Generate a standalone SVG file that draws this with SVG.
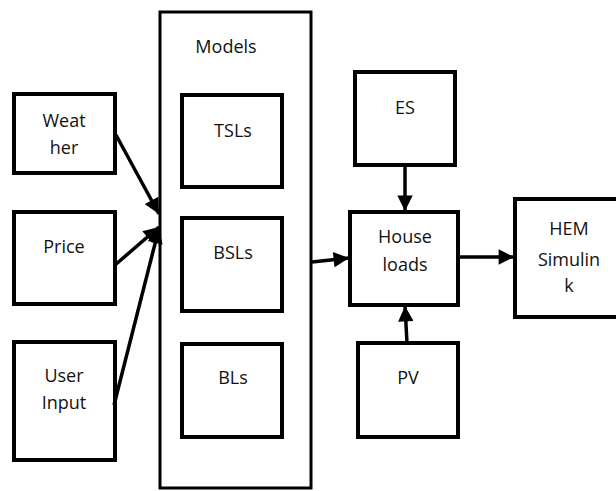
<svg xmlns="http://www.w3.org/2000/svg" width="616" height="491" viewBox="0 0 616 491">
<style>
.box{fill:#fff;stroke:#000;stroke-width:4}
.cont{fill:#fff;stroke:#000;stroke-width:3}
.t{font-family:"Open Sans","Liberation Sans",sans-serif;font-size:18px;fill:#111;text-anchor:middle}
.c{stroke:#000;stroke-width:3.5;fill:none;marker-end:url(#ah)}
</style>
<defs>
<marker id="ah" viewBox="0 0 10 10" refX="10" refY="5" markerWidth="5" markerHeight="4.4" orient="auto" markerUnits="strokeWidth">
<path d="M0,0 L10,5 L0,10 z" fill="#000"/>
</marker>
</defs>
<g id="models">
<rect class="cont" x="160" y="12" width="151" height="476"/>
<text class="t" x="226" y="53">Models</text>
</g>
<g id="tsls"><rect class="box" x="182" y="95" width="100" height="92"/><text class="t" x="233" y="137">TSLs</text></g>
<g id="bsls"><rect class="box" x="182" y="218" width="100" height="93"/><text class="t" x="233" y="259">BSLs</text></g>
<g id="bls"><rect class="box" x="182" y="344" width="100" height="93"/><text class="t" x="233" y="384">BLs</text></g>
<g id="weather"><rect class="box" x="14" y="94" width="101" height="79"/><text class="t" x="64" y="127">Weat</text><text class="t" x="64" y="154">her</text></g>
<g id="price"><rect class="box" x="14" y="212" width="101" height="92"/><text class="t" x="64" y="253">Price</text></g>
<g id="userinput"><rect class="box" x="14" y="342" width="101" height="118"/><text class="t" x="64" y="382">User</text><text class="t" x="64" y="409">Input</text></g>
<g id="es"><rect class="box" x="355" y="72" width="100" height="93"/><text class="t" x="405" y="114">ES</text></g>
<g id="house"><rect class="box" x="350" y="212" width="108" height="93"/><text class="t" x="405" y="243">House</text><text class="t" x="405" y="271">loads</text></g>
<g id="pv"><rect class="box" x="358" y="343" width="100" height="94"/><text class="t" x="408" y="384">PV</text></g>
<g id="hem"><rect class="box" x="515" y="199" width="110" height="118"/><text class="t" x="569" y="235">HEM</text><text class="t" x="569" y="266">Simulin</text><text class="t" x="569" y="292">k</text></g>
<g id="connectors">
<path class="c" d="M116,135 L159,214"/>
<path class="c" d="M115,265 L159,227"/>
<path class="c" d="M114,405 L159,228"/>
<path class="c" d="M312,262 L349,258"/>
<path class="c" d="M405,165 L405,211"/>
<path class="c" d="M407,343 L405,306"/>
<path class="c" d="M458,257 L514,257"/>
</g>
</svg>
